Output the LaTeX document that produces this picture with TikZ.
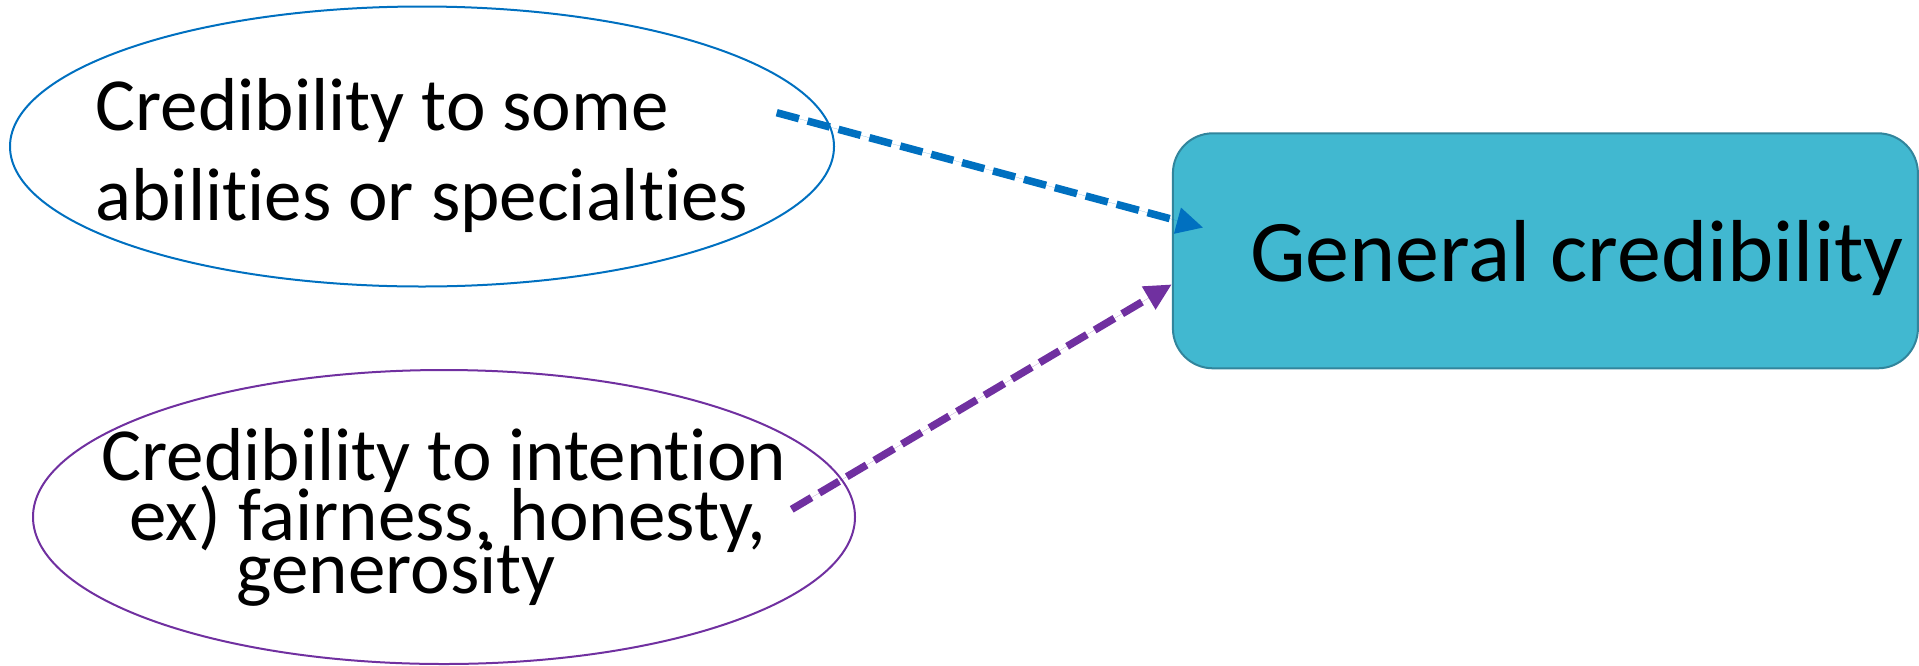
\documentclass[tikz,border=0pt]{standalone}
\usepackage{fontspec}
\setmainfont{Carlito}[Ligatures={NoCommon}]
\usetikzlibrary{arrows.meta,shapes.geometric}
\definecolor{bluepen}{RGB}{0,112,192}
\definecolor{purplepen}{RGB}{112,48,160}
\definecolor{boxfill}{RGB}{65,184,208}
\definecolor{boxline}{RGB}{49,133,156}
\begin{document}
\begin{tikzpicture}[x=1pt, y=-1pt, line join=round, >={Triangle[length=27pt,width=25pt]},
	oval/.style={ellipse, draw=#1, line width=2pt, inner xsep=-300pt, inner ysep=-150pt, align=left, font=\fontsize{75}{75}\selectfont},
	dashline/.style={->, draw=#1, fill=#1, line width=7.5pt, dash pattern=on 23pt off 9pt}]
	\useasboundingbox (0,0) rectangle (1919,665);
	\node[oval=bluepen, minimum width=824pt, minimum height=280pt] (ability) at (422,146.5)
	{\rule{0pt}{70pt}Credibility to some\\[15pt]abilities or specialties};
	\node[oval=purplepen, minimum width=822pt, minimum height=294pt] (intent) at (444,517)
	{Credibility to intention\\[-15pt]\hspace*{28pt}ex) fairness, honesty,\\[-22pt]\hspace*{135pt}generosity};
	\node[rectangle, rounded corners=40pt, fill=boxfill, draw=boxline, line width=2pt, inner sep=0pt,
	minimum width=745pt, minimum height=235pt, font=\fontsize{88}{100}\selectfont] (general) at (1545.4,250.8)
	{\hspace*{63pt}\rule{0pt}{75pt}General credibility}; % text sits right of centre
	\draw[dashline=bluepen] ([xshift=354.7pt,yshift=33.8pt]ability.center)--([xshift=31.6pt,yshift=23.1pt]general.west);
	\draw[dashline=purplepen] ([xshift=347.7pt,yshift=7.7pt]intent.center)--([yshift=-33.5pt]general.west);
\end{tikzpicture}
\end{document}
